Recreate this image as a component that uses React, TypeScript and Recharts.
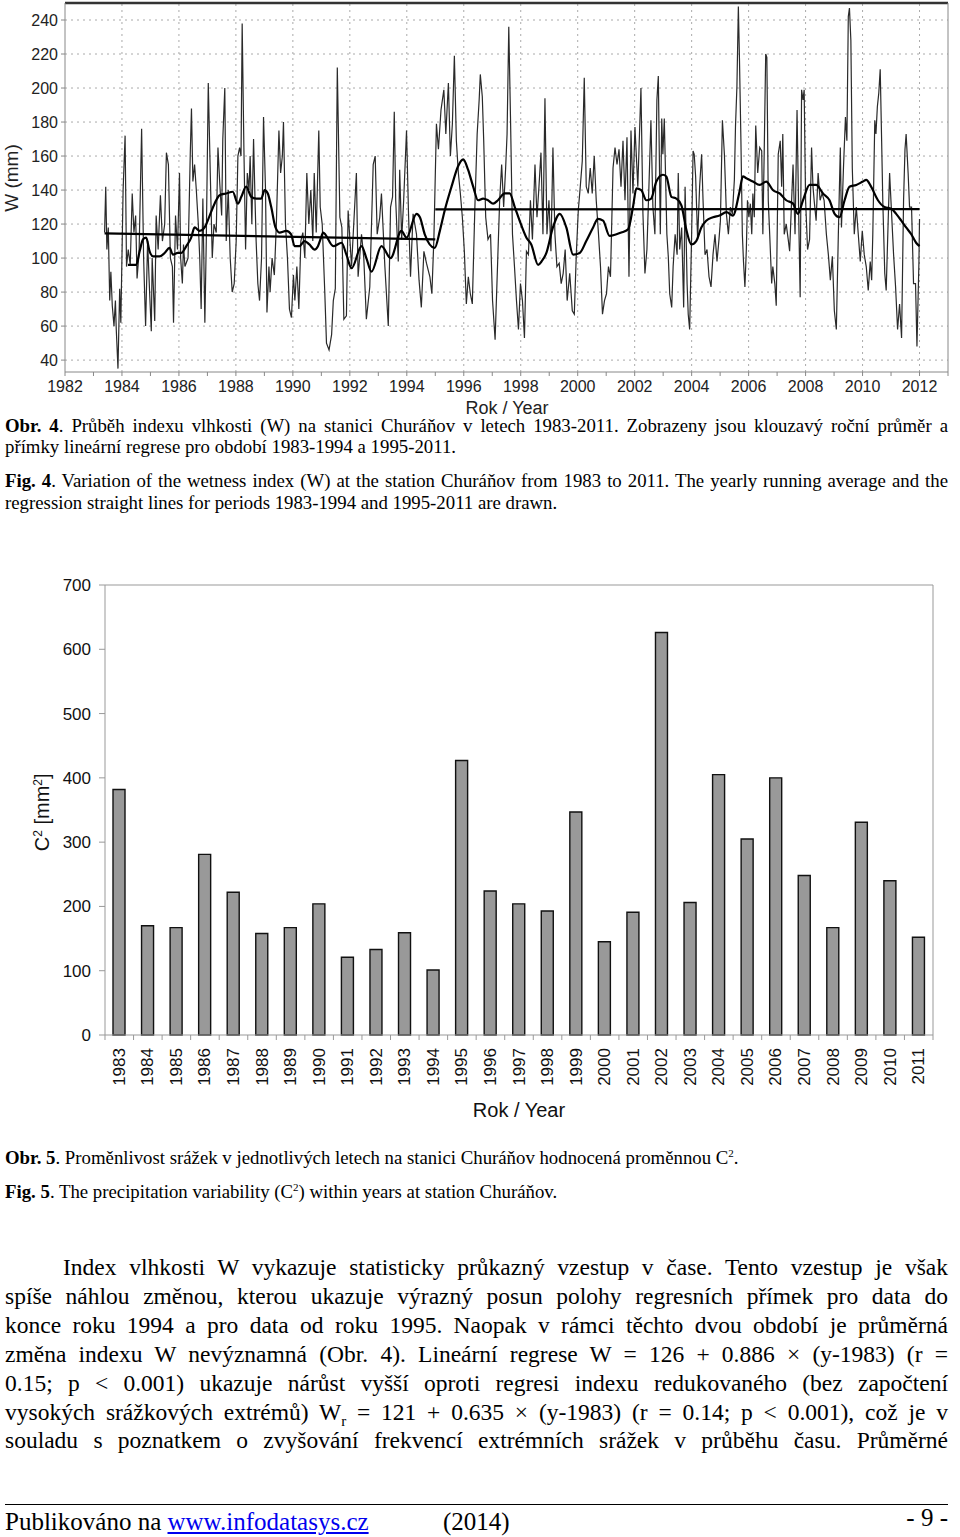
import React from 'react';
import {
    LineChart,
    Line,
    BarChart,
    Bar,
    XAxis,
    YAxis,
    ReferenceLine
} from 'recharts';

// Obr. 4 - wetness index W as [year, W]
const wetnessRaw: [number, number][] = [
    [1983.39, 115], [1983.43, 142], [1983.47, 105], [1983.52, 118], [1983.57, 75], [1983.61, 92], [1983.66, 72], [1983.72, 60], [1983.77, 75], [1983.80, 58], [1983.86, 35], [1983.92, 82], [1983.96, 62],
    [1984.04, 140], [1984.11, 172], [1984.16, 95], [1984.22, 105], [1984.29, 96], [1984.36, 138], [1984.42, 115], [1984.48, 125], [1984.53, 88], [1984.60, 103], [1984.69, 176], [1984.76, 100], [1984.83, 60], [1984.90, 110], [1984.97, 80],
    [1985.03, 57], [1985.06, 100], [1985.15, 63], [1985.20, 125], [1985.27, 105], [1985.35, 137], [1985.42, 110], [1985.50, 120], [1985.56, 162], [1985.63, 155], [1985.70, 100], [1985.77, 95], [1985.81, 62], [1985.88, 125], [1985.95, 105],
    [1986.02, 150], [1986.06, 100], [1986.12, 85], [1986.16, 108], [1986.21, 95], [1986.32, 100], [1986.40, 163], [1986.44, 188], [1986.49, 145], [1986.55, 155], [1986.61, 140], [1986.68, 120], [1986.73, 100], [1986.78, 70], [1986.84, 135], [1986.91, 62], [1986.96, 110],
    [1987.03, 203], [1987.10, 150], [1987.17, 100], [1987.23, 120], [1987.31, 115], [1987.37, 165], [1987.43, 145], [1987.50, 125], [1987.54, 170], [1987.61, 200], [1987.66, 110], [1987.73, 140], [1987.80, 100], [1987.87, 80], [1987.94, 85],
    [1988.01, 110], [1988.07, 160], [1988.13, 165], [1988.18, 160], [1988.22, 238], [1988.28, 165], [1988.34, 105], [1988.40, 150], [1988.46, 140], [1988.50, 160], [1988.56, 120], [1988.62, 170], [1988.67, 135], [1988.71, 110], [1988.77, 85], [1988.83, 75], [1988.90, 100], [1988.97, 183],
    [1989.04, 140], [1989.09, 68], [1989.16, 95], [1989.20, 80], [1989.27, 100], [1989.35, 90], [1989.42, 120], [1989.51, 175], [1989.57, 150], [1989.63, 160], [1989.67, 180], [1989.74, 120], [1989.81, 100], [1989.88, 70], [1989.95, 65],
    [1990.02, 90], [1990.07, 75], [1990.14, 95], [1990.21, 70], [1990.28, 110], [1990.35, 115], [1990.42, 100], [1990.49, 150], [1990.56, 120], [1990.63, 140], [1990.70, 110], [1990.75, 150], [1990.82, 115], [1990.91, 175], [1990.96, 130],
    [1991.03, 120], [1991.12, 80], [1991.18, 50], [1991.27, 46], [1991.36, 55], [1991.42, 75], [1991.49, 82], [1991.56, 212], [1991.65, 124], [1991.72, 118], [1991.79, 64], [1991.88, 66], [1991.94, 128],
    [1992.06, 95], [1992.23, 150], [1992.29, 89], [1992.41, 114], [1992.49, 100], [1992.58, 64], [1992.70, 83], [1992.82, 155], [1992.89, 160], [1992.96, 114],
    [1993.05, 124], [1993.11, 138], [1993.23, 95], [1993.35, 60], [1993.43, 130], [1993.50, 136], [1993.56, 186], [1993.61, 134], [1993.70, 98], [1993.75, 152], [1993.82, 111], [1993.89, 134], [1993.99, 175],
    [1994.06, 126], [1994.13, 89], [1994.22, 126], [1994.34, 114], [1994.43, 87], [1994.51, 71], [1994.60, 104], [1994.69, 97], [1994.81, 89], [1994.88, 79], [1994.95, 111],
    [1995.04, 179], [1995.11, 164], [1995.20, 187], [1995.30, 199], [1995.37, 173], [1995.46, 203], [1995.53, 160], [1995.60, 179], [1995.67, 219], [1995.74, 169], [1995.81, 150], [1995.88, 138], [1995.95, 124],
    [1996.02, 104], [1996.09, 73], [1996.16, 89], [1996.23, 79], [1996.30, 73], [1996.39, 130], [1996.47, 173], [1996.54, 193], [1996.58, 208], [1996.65, 195], [1996.70, 169], [1996.77, 124], [1996.85, 111], [1996.94, 114],
    [1997.01, 75], [1997.10, 52], [1997.19, 98], [1997.26, 134], [1997.33, 155], [1997.40, 130], [1997.47, 153], [1997.52, 173], [1997.58, 236], [1997.64, 183], [1997.71, 114], [1997.78, 95], [1997.85, 75], [1997.92, 58], [1997.99, 85],
    [1998.06, 75], [1998.13, 53], [1998.20, 104], [1998.27, 102], [1998.34, 134], [1998.41, 111], [1998.50, 155], [1998.57, 124], [1998.64, 142], [1998.71, 162], [1998.78, 114], [1998.85, 194], [1998.92, 114], [1998.99, 134],
    [1999.06, 104], [1999.13, 165], [1999.20, 114], [1999.27, 95], [1999.35, 97], [1999.42, 85], [1999.49, 91], [1999.56, 105], [1999.63, 75], [1999.72, 91], [1999.81, 69], [1999.88, 67], [1999.95, 102],
    [2000.02, 128], [2000.09, 142], [2000.16, 157], [2000.23, 206], [2000.30, 142], [2000.37, 138], [2000.44, 153], [2000.51, 138], [2000.58, 160], [2000.65, 134], [2000.73, 114], [2000.80, 95], [2000.87, 67], [2000.94, 75],
    [2001.01, 79], [2001.08, 95], [2001.15, 89], [2001.24, 153], [2001.31, 165], [2001.38, 155], [2001.45, 164], [2001.52, 142], [2001.59, 169], [2001.66, 134], [2001.73, 171], [2001.80, 89], [2001.87, 175], [2001.94, 138], [2002.01, 177],
    [2002.11, 142], [2002.22, 200], [2002.29, 126], [2002.36, 91], [2002.43, 105], [2002.50, 142], [2002.57, 181], [2002.64, 130], [2002.71, 114], [2002.78, 193], [2002.83, 207], [2002.90, 114], [2002.95, 182], [2002.99, 161],
    [2003.04, 182], [2003.09, 144], [2003.13, 114], [2003.18, 101], [2003.23, 79], [2003.30, 71], [2003.35, 95], [2003.42, 114], [2003.49, 102], [2003.53, 150], [2003.58, 105], [2003.65, 118], [2003.72, 71], [2003.77, 142], [2003.84, 85], [2003.88, 67], [2003.93, 58],
    [2004.00, 114], [2004.05, 163], [2004.09, 161], [2004.14, 148], [2004.21, 111], [2004.28, 142], [2004.35, 161], [2004.40, 134], [2004.47, 102], [2004.54, 105], [2004.61, 89], [2004.68, 83], [2004.75, 102], [2004.82, 114], [2004.89, 98], [2004.96, 111],
    [2005.01, 122], [2005.08, 181], [2005.15, 161], [2005.22, 126], [2005.29, 114], [2005.36, 130], [2005.43, 126], [2005.50, 146], [2005.54, 178], [2005.59, 201], [2005.64, 248], [2005.68, 216], [2005.73, 169], [2005.78, 114], [2005.82, 98], [2005.87, 83], [2005.92, 105], [2005.96, 134],
    [2006.01, 124], [2006.06, 132], [2006.11, 114], [2006.15, 138], [2006.20, 124], [2006.25, 178], [2006.32, 150], [2006.39, 165], [2006.46, 163], [2006.50, 114], [2006.55, 165], [2006.60, 220], [2006.64, 218], [2006.69, 134], [2006.74, 114], [2006.81, 85], [2006.85, 95], [2006.92, 85], [2006.97, 72],
    [2007.04, 161], [2007.11, 169], [2007.16, 142], [2007.20, 173], [2007.25, 114], [2007.32, 120], [2007.39, 111], [2007.44, 104], [2007.51, 134], [2007.56, 155], [2007.63, 114], [2007.70, 187], [2007.77, 114], [2007.81, 77], [2007.86, 199], [2007.91, 193], [2007.95, 199],
    [2008.00, 134], [2008.07, 105], [2008.14, 111], [2008.21, 165], [2008.26, 142], [2008.30, 134], [2008.37, 122], [2008.44, 150], [2008.51, 134], [2008.58, 138], [2008.65, 134], [2008.73, 114], [2008.80, 102], [2008.87, 87], [2008.94, 101],
    [2009.01, 69], [2009.08, 58], [2009.15, 114], [2009.22, 165], [2009.26, 118], [2009.33, 153], [2009.40, 183], [2009.45, 169], [2009.50, 242], [2009.54, 247], [2009.59, 228], [2009.64, 153], [2009.71, 114], [2009.78, 130], [2009.85, 114], [2009.92, 98], [2009.99, 116],
    [2010.06, 102], [2010.13, 95], [2010.20, 81], [2010.27, 98], [2010.32, 87], [2010.36, 114], [2010.43, 181], [2010.47, 173], [2010.52, 189], [2010.57, 197], [2010.62, 211], [2010.67, 169], [2010.71, 134], [2010.78, 91], [2010.83, 81], [2010.90, 122], [2010.95, 150],
    [2011.02, 126], [2011.09, 102], [2011.16, 83], [2011.23, 58], [2011.30, 73], [2011.37, 53], [2011.44, 134], [2011.49, 164], [2011.53, 173], [2011.60, 150], [2011.65, 130], [2011.72, 130], [2011.79, 85], [2011.86, 85], [2011.91, 48], [2011.98, 98], [2012.00, 123]
];

// yearly running average
const wetnessAvg: [number, number][] = [
    [1984.21, 96], [1984.50, 96], [1984.62, 104], [1984.74, 111], [1984.85, 112], [1984.97, 104], [1985.09, 101], [1985.32, 101], [1985.50, 103], [1985.67, 106], [1985.79, 102], [1985.96, 103],
    [1986.08, 103], [1986.26, 107], [1986.43, 112], [1986.55, 118], [1986.73, 116], [1986.90, 118], [1987.08, 125], [1987.25, 132], [1987.43, 137], [1987.66, 138], [1987.89, 139],
    [1988.07, 132], [1988.19, 136], [1988.36, 142], [1988.54, 136], [1988.71, 135], [1988.89, 135], [1989.01, 140], [1989.12, 138], [1989.24, 130], [1989.39, 118], [1989.53, 115], [1989.77, 116], [1989.94, 114],
    [1990.06, 107], [1990.23, 107], [1990.41, 110], [1990.58, 108], [1990.76, 105], [1990.88, 107], [1990.99, 112],
    [1991.06, 115], [1991.42, 107], [1991.71, 109], [1991.88, 102], [1992.06, 94], [1992.41, 107], [1992.58, 100], [1992.76, 92], [1993.11, 107], [1993.43, 100], [1993.81, 116], [1993.99, 112],
    [1994.34, 126], [1994.46, 124], [1994.63, 114], [1994.98, 106], [1995.16, 116], [1995.33, 128], [1995.57, 142], [1995.80, 154], [1995.98, 158], [1996.15, 152], [1996.33, 142], [1996.50, 134],
    [1996.68, 135], [1996.85, 134], [1997.03, 132], [1997.20, 134], [1997.44, 138], [1997.61, 138], [1997.79, 130], [1997.96, 122], [1998.20, 112], [1998.37, 108], [1998.61, 96], [1998.73, 98], [1998.90, 103],
    [1999.13, 118], [1999.37, 126], [1999.60, 118], [1999.84, 102], [2000.07, 103], [2000.30, 110], [2000.54, 118], [2000.71, 123], [2000.89, 122], [2001.12, 113], [2001.36, 114], [2001.53, 115], [2001.77, 117], [2001.94, 130],
    [2002.06, 141], [2002.23, 140], [2002.41, 134], [2002.58, 135], [2002.76, 145], [2002.99, 149], [2003.11, 148], [2003.29, 136], [2003.46, 135], [2003.64, 131], [2003.81, 117], [2003.99, 108],
    [2004.16, 110], [2004.34, 118], [2004.51, 122], [2004.75, 124], [2004.98, 125], [2005.22, 127], [2005.45, 125], [2005.68, 139], [2005.80, 148], [2005.92, 147], [2006.15, 145], [2006.39, 143],
    [2006.62, 145], [2006.85, 140], [2007.09, 138], [2007.32, 134], [2007.56, 132], [2007.73, 126], [2007.91, 134], [2008.14, 143], [2008.37, 143], [2008.61, 138], [2008.84, 134], [2009.02, 126],
    [2009.19, 124], [2009.37, 134], [2009.54, 142], [2009.78, 143], [2010.01, 145], [2010.13, 146], [2010.30, 142], [2010.54, 134], [2010.77, 130], [2011.01, 129], [2011.18, 126], [2011.36, 122],
    [2011.53, 118], [2011.71, 114], [2011.88, 109], [2012.00, 107]
];

// regression lines 1983-1994 and 1995-2011
const regression1: [number, number][] = [[1983.39, 114.5], [1995.0, 111]];
const regression2: [number, number][] = [[1995.0, 128.6], [2012.0, 128.8]];

const yearTicks = [1982, 1983, 1984, 1985, 1986, 1987, 1988, 1989, 1990, 1991, 1992, 1993, 1994, 1995, 1996, 1997, 1998, 1999, 2000, 2001, 2002, 2003, 2004, 2005, 2006, 2007, 2008, 2009, 2010, 2011, 2012, 2013];
const gridYears = [1984, 1986, 1988, 1990, 1992, 1994, 1996, 1998, 2000, 2002, 2004, 2006, 2008, 2010, 2012];
const wTicks = [40, 60, 80, 100, 120, 140, 160, 180, 200, 220, 240];

// Obr. 5 - C2 per year
const c2Years = ['1983', '1984', '1985', '1986', '1987', '1988', '1989', '1990', '1991', '1992', '1993', '1994', '1995', '1996', '1997', '1998', '1999', '2000', '2001', '2002', '2003', '2004', '2005', '2006', '2007', '2008', '2009', '2010', '2011'];
const c2Values = [382, 170, 167, 281, 222, 158, 167, 204, 121, 133, 159, 101, 427, 224, 204, 193, 347, 145, 191, 626, 206, 405, 305, 400, 248, 167, 331, 240, 152];
const c2Ticks = [0, 100, 200, 300, 400, 500, 600, 700];

const toPoints = (pairs: [number, number][]) => pairs.map(([t, w]) => ({ t, w }));

const sans = 'Liberation Sans, Arial, sans-serif';
const serif = 'Liberation Serif, Times New Roman, serif';

const BAR_BAND = (932.8 - 104.7) / 29;

const YearTick = (props: any) => {
    const { x, y, payload, index } = props;
    return (
        <g>
            <line x1={x - BAR_BAND / 2} y1={y - 8} x2={x - BAR_BAND / 2} y2={y - 3} stroke="#999" />
            {index === c2Years.length - 1 && (
                <line x1={x + BAR_BAND / 2} y1={y - 8} x2={x + BAR_BAND / 2} y2={y - 3} stroke="#999" />
            )}
            <text
                x={x}
                y={y + 5}
                transform={`rotate(-90 ${x} ${y + 5})`}
                textAnchor="end"
                dominantBaseline="central"
                fontSize={17}
                fontFamily={sans}
                fill="#111"
            >
                {payload.value}
            </text>
        </g>
    );
};

const TextLine = ({ top, size, lh, last, indent, children }: any) => (
    <div
        style={{
            position: 'absolute',
            left: 5,
            width: 943,
            top,
            fontSize: size,
            lineHeight: `${lh}px`,
            textAlign: 'justify',
            textAlignLast: last ? 'left' : 'justify',
            textIndent: indent || 0,
            fontFamily: serif,
            color: '#000'
        }}
    >
        {children}
    </div>
);

const App: React.FC = () => {
    const barData = c2Years.map((year, i) => ({ year, c2: c2Values[i] }));

    return (
        <div style={{ position: 'absolute', left: 0, top: 0, width: 960, height: 1537, background: '#fff', overflow: 'hidden' }}>
            <div style={{ position: 'absolute', left: 0, top: 0 }}>
                <LineChart width={960} height={420} margin={{ top: 3, right: 12, bottom: 0, left: 0 }}>
                    {gridYears.map(y => (
                        <ReferenceLine key={`gx${y}`} x={y} stroke="#aaa" strokeDasharray="2 4" />
                    ))}
                    {wTicks.map(v => (
                        <ReferenceLine key={`gy${v}`} y={v} stroke="#aaa" strokeDasharray="2 4" />
                    ))}
                    <XAxis
                        type="number"
                        dataKey="t"
                        domain={[1982, 2013]}
                        ticks={yearTicks}
                        interval={0}
                        allowDataOverflow
                        tickFormatter={(v: number) => (v % 2 === 0 && v < 2013 ? String(v) : '')}
                        height={48}
                        stroke="#888"
                        tickSize={4}
                        tickMargin={5}
                        tick={{ fontSize: 16, fill: '#222', fontFamily: sans }}
                    />
                    <YAxis
                        type="number"
                        domain={[33, 250]}
                        ticks={wTicks}
                        interval={0}
                        allowDataOverflow
                        width={65}
                        stroke="#888"
                        tickSize={4}
                        tickMargin={3}
                        tick={{ fontSize: 16, fill: '#222', fontFamily: sans }}
                    />
                    <ReferenceLine y={250} stroke="#333" strokeWidth={2.5} />
                    <ReferenceLine x={2013} stroke="#888" />
                    <Line data={toPoints(wetnessRaw)} dataKey="w" type="linear" stroke="#2a2a2a" strokeWidth={1.2} dot={false} isAnimationActive={false} />
                    <Line data={toPoints(wetnessAvg)} dataKey="w" type="monotone" stroke="#000" strokeWidth={2.2} dot={false} isAnimationActive={false} />
                    <Line data={toPoints(regression1)} dataKey="w" type="linear" stroke="#000" strokeWidth={2.2} dot={false} isAnimationActive={false} />
                    <Line data={toPoints(regression2)} dataKey="w" type="linear" stroke="#000" strokeWidth={2.2} dot={false} isAnimationActive={false} />
                </LineChart>
            </div>
            <div style={{ position: 'absolute', left: -38, top: 166, width: 100, textAlign: 'center', transform: 'rotate(-90deg)', fontSize: 19, lineHeight: '24px', fontFamily: sans, color: '#222' }}>
                W (mm)
            </div>
            <div style={{ position: 'absolute', left: 407, top: 397, width: 200, textAlign: 'center', fontSize: 18, lineHeight: '22px', fontFamily: sans, color: '#222' }}>
                Rok / Year
            </div>

            <TextLine top={415} size={18.8} lh={21}>
                <b>Obr. 4</b>. Průběh indexu vlhkosti (W) na stanici Churáňov v letech 1983-2011. Zobrazeny jsou klouzavý roční průměr a
            </TextLine>
            <TextLine top={436} size={18.8} lh={21} last>
                přímky lineární regrese pro období 1983-1994 a 1995-2011.
            </TextLine>
            <TextLine top={470} size={18.8} lh={21}>
                <b>Fig. 4</b>. Variation of the wetness index (W) at the station Churáňov from 1983 to 2011. The yearly running average and the
            </TextLine>
            <TextLine top={492} size={18.8} lh={21} last>
                regression straight lines for periods 1983-1994 and 1995-2011 are drawn.
            </TextLine>

            <div style={{ position: 'absolute', left: 0, top: 570 }}>
                <BarChart width={960} height={560} data={barData} margin={{ top: 14, right: 26, bottom: 0, left: 0 }} barSize={12}>
                    <XAxis xAxisId="top" orientation="top" dataKey="year" height={1} tick={false} tickLine={false} stroke="#999" />
                    <XAxis xAxisId="cat" dataKey="year" height={95} interval={0} tickLine={false} stroke="#999" tick={<YearTick />} />
                    <YAxis yAxisId="left" domain={[0, 700]} ticks={c2Ticks} interval={0} width={105} stroke="#999" tickSize={6} tickMargin={8} tick={{ fontSize: 17, fill: '#111', fontFamily: sans }} />
                    <YAxis yAxisId="right" orientation="right" domain={[0, 700]} width={1} tick={false} tickLine={false} stroke="#999" />
                    <Bar xAxisId="cat" yAxisId="left" dataKey="c2" fill="#999999" stroke="#111" strokeWidth={1.4} isAnimationActive={false} />
                </BarChart>
            </div>
            <div style={{ position: 'absolute', left: -10, top: 797, width: 100, textAlign: 'center', transform: 'rotate(-90deg)', fontSize: 20, lineHeight: '26px', fontFamily: sans, color: '#111', whiteSpace: 'nowrap' }}>
                C<sup style={{ fontSize: 12 }}>2</sup> [mm<sup style={{ fontSize: 12 }}>2</sup>]
            </div>
            <div style={{ position: 'absolute', left: 419, top: 1097, width: 200, textAlign: 'center', fontSize: 20, lineHeight: '26px', fontFamily: sans, color: '#111' }}>
                Rok / Year
            </div>

            <TextLine top={1143} size={18.8} lh={21} last>
                <b>Obr. 5</b>. Proměnlivost srážek v jednotlivých letech na stanici Churáňov hodnocená proměnnou C<sup style={{ fontSize: 11 }}>2</sup>.
            </TextLine>
            <TextLine top={1177} size={18.8} lh={21} last>
                <b>Fig. 5</b>. The precipitation variability (C<sup style={{ fontSize: 11 }}>2</sup>) within years at station Churáňov.
            </TextLine>

            <TextLine top={1253} size={23.5} lh={29} indent={58}>
                Index vlhkosti W vykazuje statisticky průkazný vzestup v čase. Tento vzestup je však
            </TextLine>
            <TextLine top={1282} size={23.5} lh={29}>
                spíše náhlou změnou, kterou ukazuje výrazný posun polohy regresních přímek pro data do
            </TextLine>
            <TextLine top={1311} size={23.5} lh={29}>
                konce roku 1994 a pro data od roku 1995. Naopak v rámci těchto dvou období je průměrná
            </TextLine>
            <TextLine top={1340} size={23.5} lh={29}>
                změna indexu W nevýznamná (Obr. 4). Lineární regrese W = 126 + 0.886 × (y-1983) (r =
            </TextLine>
            <TextLine top={1369} size={23.5} lh={29}>
                0.15; p &lt; 0.001) ukazuje nárůst vyšší oproti regresi indexu redukovaného (bez započtení
            </TextLine>
            <TextLine top={1398} size={23.5} lh={29}>
                vysokých srážkových extrémů) W<sub style={{ fontSize: 15 }}>r</sub> = 121 + 0.635 × (y-1983) (r = 0.14; p &lt; 0.001), což je v
            </TextLine>
            <TextLine top={1426} size={23.5} lh={29}>
                souladu s poznatkem o zvyšování frekvencí extrémních srážek v průběhu času. Průměrné
            </TextLine>

            <div style={{ position: 'absolute', left: 5, top: 1504, width: 943, borderTop: '1px solid #000' }} />
            <div style={{ position: 'absolute', left: 5, top: 1507, fontSize: 25, lineHeight: '29px', fontFamily: serif, color: '#000', whiteSpace: 'nowrap' }}>
                Publikováno na <span style={{ color: '#0000ee', textDecoration: 'underline' }}>www.infodatasys.cz</span>
            </div>
            <div style={{ position: 'absolute', left: 443, top: 1507, fontSize: 25, lineHeight: '29px', fontFamily: serif, color: '#000' }}>
                (2014)
            </div>
            <div style={{ position: 'absolute', right: 12, top: 1503, fontSize: 25, lineHeight: '29px', fontFamily: serif, color: '#000' }}>
                - 9 -
            </div>
        </div>
    );
};

export default App;
